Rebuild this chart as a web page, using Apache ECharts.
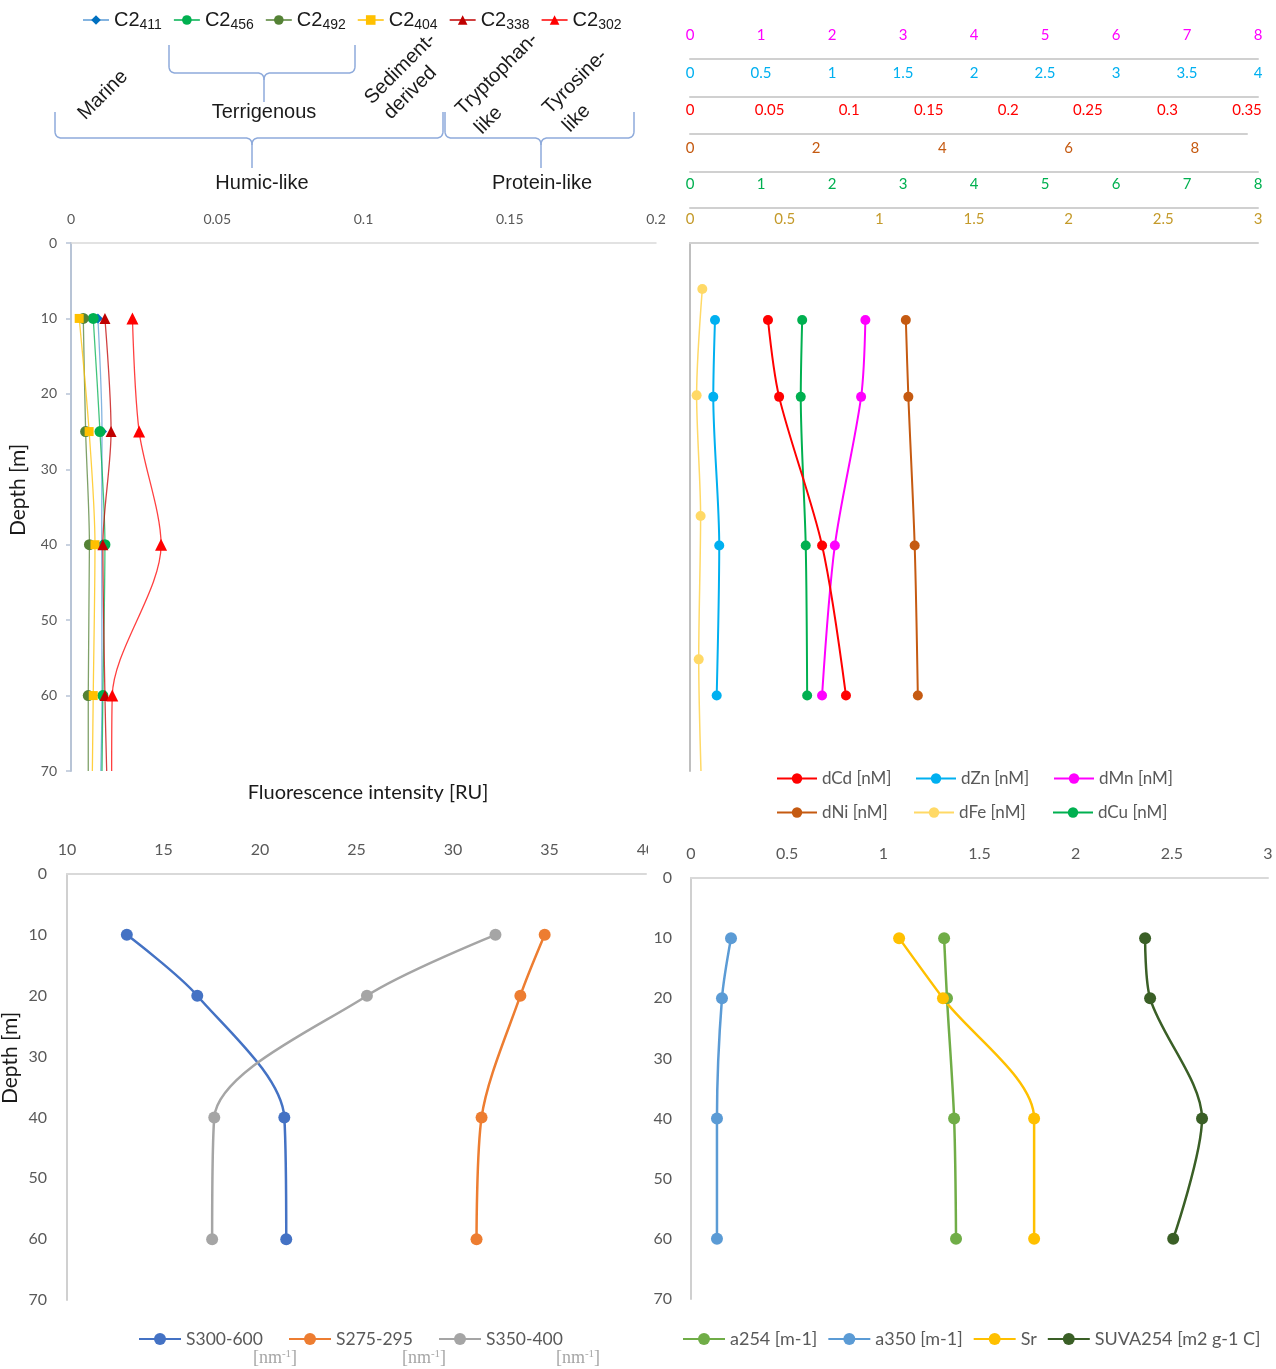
<!DOCTYPE html>
<html>
<head>
<meta charset="utf-8">
<script src="https://cdn.jsdelivr.net/npm/echarts@6/dist/echarts.min.js"></script>
<style>
html, body { margin: 0; padding: 0; background: #fff; }
#chart { width: 1276px; height: 1369px; }
</style>
</head>
<body>
<div id="chart"></div>
<script>
// ---- Fluorescence components (PARAFAC), RU ----
const fluorDepth = [10, 25, 40, 60, 70];
const C2_411 = [0.0092, 0.0106, 0.0105, 0.0106, 0.0102];
const C2_456 = [0.0076, 0.0099, 0.0116, 0.0109, 0.0106];
const C2_492 = [0.0042, 0.0050, 0.0063, 0.0059, 0.0059];
const C2_404 = [0.0028, 0.0062, 0.0082, 0.0076, 0.0073];
const C2_338 = [0.0116, 0.0137, 0.0109, 0.0116, 0.0122];
const C2_302 = [0.0210, 0.0233, 0.0308, 0.0141, 0.0139];

// ---- Dissolved trace metals, nM ----
const metalDepth = [10.2, 20.4, 40.1, 60];
const dCd = [0.049, 0.056, 0.083, 0.098];
const dZn = [0.176, 0.164, 0.206, 0.188];
const dMn = [2.47, 2.41, 2.04, 1.86];
const dNi = [3.42, 3.46, 3.56, 3.61];
const dCu = [1.58, 1.56, 1.63, 1.65];
const feDepth = [6.1, 20.2, 36.2, 55.2, 70];
const dFe = [0.065, 0.035, 0.056, 0.046, 0.058];

// ---- Spectral slopes, nm-1 (x 1000) ----
const cdomDepth = [10, 20, 40, 60];
const S300_600 = [13.1, 16.75, 21.26, 21.36];
const S275_295 = [34.75, 33.49, 31.48, 31.22];
const S350_400 = [32.2, 25.54, 17.63, 17.52];

// ---- Absorption, slope ratio and SUVA ----
const a254 = [1.316, 1.331, 1.368, 1.378];
const a350 = [0.208, 0.161, 0.135, 0.135];
const Sr = [1.082, 1.31, 1.784, 1.784];
const SUVA254 = [2.361, 2.387, 2.657, 2.507];

// ---- Axis ranges [min, max, interval] ----
const depthRange = [0, 70, 10];
const fluorRange = [0, 0.2, 0.05];
const mnRange = [0, 8, 1];
const znRange = [0, 4, 0.5];
const cdRange = [0, 0.35, 0.05];
const niRange = [0, 9, 2];
const cuRange = [0, 8, 1];
const feRange = [0, 3, 0.5];
const slopeRange = [10, 40, 5];
const absRange = [0, 3, 0.5];

const CAL = 'Lato, "Open Sans", sans-serif';
const ARIAL = '"Liberation Sans", Arial, sans-serif';
const GRAY_TXT = '#595959';
const BRACE = '#8eaadb';
const SMOOTH = 0.3;

function pts(xs, ds, lastBare) {
  return xs.map((v, i) => {
    const p = { value: [v, ds[i]] };
    if (lastBare && i === xs.length - 1) p.symbol = 'none';
    return p;
  });
}

function rangeOf(r) { return { min: r[0], max: r[1], interval: r[2] }; }

function topAxis(grid, r, color, offset, size, extra) {
  return Object.assign({
    type: 'value', gridIndex: grid, position: 'top', offset: offset,
    ...rangeOf(r),
    axisLine: { show: true, onZero: false, lineStyle: { color: '#d0d0d0', width: 2 } },
    axisTick: { show: false },
    splitLine: { show: false },
    axisLabel: { color: color, fontSize: size, fontFamily: CAL, margin: 16 }
  }, extra || {});
}

function depthAxis(grid, show, extra) {
  return Object.assign({
    type: 'value', gridIndex: grid, inverse: true, ...rangeOf(depthRange),
    axisLine: { show: show, onZero: false, lineStyle: { color: '#d0d0d0', width: 2 } },
    axisTick: { show: false },
    splitLine: { show: false },
    axisLabel: { show: show, color: GRAY_TXT, fontSize: 16, fontFamily: CAL, margin: 19 }
  }, extra || {});
}

// fluorescence component series
function fl(name, vals, color, symbol, size, lineColor) {
  return {
    name: name, type: 'line', xAxisIndex: 0, yAxisIndex: 0, smooth: SMOOTH,
    data: pts(vals, fluorDepth, true), symbol: symbol, symbolSize: size,
    itemStyle: { color: color },
    lineStyle: { color: lineColor || color, width: 1.3, opacity: 0.75 },
    z: 3
  };
}

function metal(name, vals, depths, xi, yi, color, width, bare) {
  return {
    name: name, type: 'line', xAxisIndex: xi, yAxisIndex: yi, smooth: SMOOTH,
    data: pts(vals, depths, bare), symbol: 'circle', symbolSize: 10,
    itemStyle: { color: color }, lineStyle: { color: color, width: width }
  };
}

function prof(name, vals, xi, yi, color) {
  return {
    name: name, type: 'line', xAxisIndex: xi, yAxisIndex: yi, smooth: SMOOTH,
    data: pts(vals, cdomDepth, false), symbol: 'circle', symbolSize: 12,
    itemStyle: { color: color }, lineStyle: { color: color, width: 2.5 }
  };
}

// curly brace opening downward: ends at x0/x1, arms from yTop to yBar, tip at (xm, yTip)
function brace(x0, x1, xm, yTop, yBar, yTip) {
  const r = 7;
  function corner(out, p0, c, p1) {
    for (let t = 0; t <= 1.0001; t += 0.125) {
      const a = (1 - t) * (1 - t), b = 2 * (1 - t) * t, d = t * t;
      out.push([a * p0[0] + b * c[0] + d * p1[0], a * p0[1] + b * c[1] + d * p1[1]]);
    }
  }
  const l = [[x0, yTop]];
  corner(l, [x0, yBar - r], [x0, yBar], [x0 + r, yBar]);
  corner(l, [xm - r, yBar], [xm, yBar], [xm, yBar + r]);
  l.push([xm, yTip]);
  const rr = [[x1, yTop]];
  corner(rr, [x1, yBar - r], [x1, yBar], [x1 - r, yBar]);
  corner(rr, [xm + r, yBar], [xm, yBar], [xm, yBar + r]);
  const st = { fill: null, stroke: BRACE, lineWidth: 1.5 };
  return [
    { type: 'polyline', z: 50, shape: { points: l }, style: st },
    { type: 'polyline', z: 50, shape: { points: rr }, style: st }
  ];
}

function label(x, y, text, rot, extra) {
  return {
    type: 'text', z: 50, x: x, y: y, rotation: rot || 0,
    style: Object.assign({ text: text, font: '20px ' + ARIAL, fill: '#1a1a1a', align: 'center', verticalAlign: 'middle' }, extra || {})
  };
}

// slanted group label, anchored at the left end of its line
function slant(x, y, text) {
  return label(x, y, text, Math.PI / 4, { align: 'left' });
}

function unit(x) {
  return {
    type: 'text', z: 50, x: x, y: 1358,
    style: {
      text: '[nm{s|-1}]', font: '18px "Liberation Serif", serif', fill: '#a6a6a6', align: 'center', verticalAlign: 'middle',
      rich: { s: { fontSize: 11, fontFamily: '"Liberation Serif", serif', fill: '#a6a6a6', verticalAlign: 'top', lineHeight: 18 } }
    }
  };
}

// one legend entry placed at a fixed column
function entry(name, left, top, size, iw, ih) {
  return {
    data: [name], left: left, top: top, padding: 0, itemWidth: iw, itemHeight: ih,
    selectedMode: false,
    textStyle: { color: GRAY_TXT, fontSize: size, fontFamily: CAL }
  };
}

const chart = echarts.init(document.getElementById('chart'), null, { renderer: 'canvas' });

const option = {
  backgroundColor: '#ffffff',
  animation: false,
  grid: [
    { left: 71, top: 243, width: 585, height: 528, outerBoundsMode: 'none' },
    { left: 690, top: 243, width: 568, height: 528, outerBoundsMode: 'none' },
    { left: 690, top: 243, width: 557, height: 528, outerBoundsMode: 'none' },
    { left: 67, top: 874, width: 579, height: 426, outerBoundsMode: 'none' },
    { left: 691, top: 878, width: 577, height: 421, outerBoundsMode: 'none' }
  ],
  xAxis: [
    topAxis(0, fluorRange, GRAY_TXT, 0, 14, {
      axisLine: { show: true, onZero: false, lineStyle: { color: '#d9d9d9', width: 1.5 } },
      axisLabel: { color: GRAY_TXT, fontSize: 14, fontFamily: CAL, margin: 17 }
    }),
    topAxis(1, mnRange, '#ff00ff', 184, 15),
    topAxis(1, znRange, '#00b0f0', 146, 15),
    topAxis(2, cdRange, '#ff0000', 109, 15),
    topAxis(1, niRange, '#c55a11', 71, 15, {
      axisLabel: { color: '#c55a11', fontSize: 15, fontFamily: CAL, margin: 16, showMaxLabel: false }
    }),
    topAxis(1, cuRange, '#00b050', 35, 15),
    topAxis(1, feRange, '#c49a2a', 0, 15),
    topAxis(3, slopeRange, GRAY_TXT, 0, 16, {
      axisLine: { show: true, onZero: false, lineStyle: { color: '#d9d9d9', width: 2 } }
    }),
    topAxis(4, absRange, GRAY_TXT, 0, 16, {
      axisLine: { show: true, onZero: false, lineStyle: { color: '#d9d9d9', width: 2 } }
    })
  ],
  yAxis: [
    depthAxis(0, true, {
      axisLine: { show: true, onZero: false, lineStyle: { color: '#b8c4d6', width: 2 } },
      axisTick: { show: true, length: 5, lineStyle: { color: '#b8c4d6', width: 1.5 } },
      axisLabel: { color: GRAY_TXT, fontSize: 14, fontFamily: CAL, margin: 14 }
    }),
    depthAxis(1, false, {
      axisLine: { show: true, onZero: false, lineStyle: { color: '#bfbfbf', width: 2 } }
    }),
    depthAxis(2, false),
    depthAxis(3, true, {
      axisLabel: { color: GRAY_TXT, fontSize: 16, fontFamily: CAL, margin: 20 }
    }),
    depthAxis(4, true)
  ],
  legend: [
    {
      data: ['C2411', 'C2456', 'C2492', 'C2404', 'C2338', 'C2302'],
      left: 82, top: 8, padding: 0, itemWidth: 26, itemHeight: 12, itemGap: 11,
      selectedMode: false,
      formatter: n => '{a|' + n.slice(0, 2) + '}{b|' + n.slice(2) + '}',
      textStyle: {
        rich: {
          a: { fontSize: 20, fontFamily: ARIAL, color: '#1a1a1a', lineHeight: 24 },
          b: { fontSize: 14, fontFamily: ARIAL, color: '#1a1a1a', lineHeight: 14,
               verticalAlign: 'bottom', padding: [10, 0, 0, 0] }
        }
      }
    },
    entry('dCd [nM]', 776, 770, 17, 40, 13),
    entry('dZn [nM]', 915, 770, 17, 40, 13),
    entry('dMn [nM]', 1053, 770, 17, 40, 13),
    entry('dNi [nM]', 776, 804, 17, 40, 13),
    entry('dFe [nM]', 913, 804, 17, 40, 13),
    entry('dCu [nM]', 1052, 804, 17, 40, 13),
    entry('S300-600', 138, 1330, 17.5, 42, 15),
    entry('S275-295', 288, 1330, 17.5, 42, 15),
    entry('S350-400', 438, 1330, 17.5, 42, 15),
    {
      data: ['a254 [m-1]', 'a350 [m-1]', 'Sr', 'SUVA254 [m2 g-1 C]'],
      left: 682, top: 1330, padding: 0, itemWidth: 42, itemHeight: 15, itemGap: 10, selectedMode: false,
      textStyle: { color: GRAY_TXT, fontSize: 18, fontFamily: CAL }
    }
  ],
  series: [
    fl('C2411', C2_411, '#0070c0', 'diamond', 10, '#5b9bd5'),
    fl('C2456', C2_456, '#00b050', 'circle', 11),
    fl('C2492', C2_492, '#548235', 'circle', 11),
    fl('C2404', C2_404, '#ffc000', 'rect', 9),
    fl('C2338', C2_338, '#c00000', 'triangle', 11),
    fl('C2302', C2_302, '#ff0000', 'triangle', 12),

    metal('dFe [nM]', dFe, feDepth, 6, 1, '#ffd966', 1.5, true),
    metal('dZn [nM]', dZn, metalDepth, 2, 1, '#00b0f0', 2),
    metal('dCu [nM]', dCu, metalDepth, 5, 1, '#00b050', 2),
    metal('dMn [nM]', dMn, metalDepth, 1, 1, '#ff00ff', 2),
    metal('dNi [nM]', dNi, metalDepth, 4, 1, '#c55a11', 2),
    metal('dCd [nM]', dCd, metalDepth, 3, 2, '#ff0000', 2),

    prof('S300-600', S300_600, 7, 3, '#4472c4'),
    prof('S275-295', S275_295, 7, 3, '#ed7d31'),
    prof('S350-400', S350_400, 7, 3, '#a5a5a5'),

    prof('a254 [m-1]', a254, 8, 4, '#70ad47'),
    prof('a350 [m-1]', a350, 8, 4, '#5b9bd5'),
    prof('Sr', Sr, 8, 4, '#ffc000'),
    prof('SUVA254 [m2 g-1 C]', SUVA254, 8, 4, '#3a5f26')
  ],
  graphic: [].concat(
    brace(169, 355, 264, 45, 73, 102),
    brace(55, 443, 252, 112, 138, 168),
    brace(445, 634, 541, 112, 138, 168),
    [
      label(103, 95, 'Marine', Math.PI / 4),
      label(264, 112, 'Terrigenous'),
      slant(368, 101, 'Sediment-'),
      slant(387, 116, 'derived'),
      slant(459, 112, 'Tryptophan-'),
      slant(478, 131, 'like'),
      slant(546, 111, 'Tyrosine-'),
      slant(566, 129, 'like'),
      label(262, 183, 'Humic-like'),
      label(542, 183, 'Protein-like'),
      // axis titles
      label(368, 793, 'Fluorescence intensity [RU]', 0, { font: '20px ' + CAL }),
      label(18, 490, 'Depth [m]', Math.PI / 2, { font: '21px ' + CAL }),
      label(10, 1058, 'Depth [m]', Math.PI / 2, { font: '21px ' + CAL }),
      // panel edge between the two lower panels
      { type: 'rect', z: 100, shape: { x: 648, y: 838, width: 16, height: 24 }, style: { fill: '#ffffff' } },
      unit(275), unit(424), unit(578)
    ]
  )
};

chart.setOption(option);
</script>
</body>
</html>
